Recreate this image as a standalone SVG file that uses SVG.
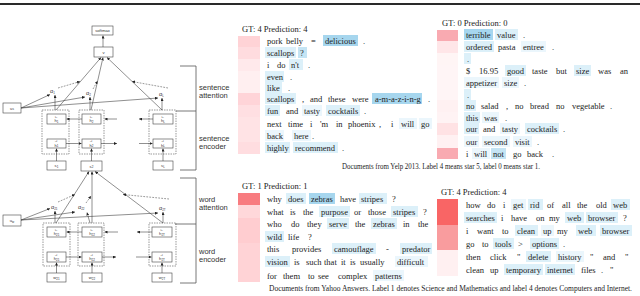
<svg xmlns="http://www.w3.org/2000/svg" width="640" height="296" viewBox="0 0 640 296">
<style>
.bx{fill:#fff;stroke:#444;stroke-width:0.6}
.db{fill:none;stroke:#555;stroke-width:0.6;stroke-dasharray:1.5,1}
.ln{fill:none;stroke:#333;stroke-width:0.55;marker-end:url(#ah)}
.dl{fill:none;stroke:#444;stroke-width:0.55;stroke-dasharray:1.8,1.2;marker-end:url(#ah)}
.br{fill:none;stroke:#555;stroke-width:0.8}
.lb{font-family:"Liberation Sans",Arial,sans-serif;font-size:4.2px;fill:#333;text-anchor:middle}
.ar{font-family:"DejaVu Sans",sans-serif;font-size:3.2px;fill:#333;text-anchor:middle}
.sb{font-size:3px}
.al{font-family:"Liberation Sans",Arial,sans-serif;font-size:5.5px;fill:#333}
.lv{font-family:"Liberation Sans",Arial,sans-serif;font-size:7.5px;fill:#333}
.w{font-family:"Liberation Serif","Times New Roman",serif;font-size:8.5px;fill:#222}
.cap{font-family:"Liberation Serif","Times New Roman",serif;font-size:7.2px;fill:#222}
.b1{fill:#a6d6ee}.b2{fill:#c4e4f4}.b3{fill:#dcf0f9}.b4{fill:#ebf6fc}
</style>
<defs>
<marker id="ah" viewBox="0 0 6 6" refX="6" refY="3" markerWidth="3" markerHeight="3" orient="auto" markerUnits="userSpaceOnUse"><path d="M0,0L6,3L0,6z" fill="#222"/></marker>
</defs>
<rect x="0" y="3" width="640" height="2" fill="#2a2a2a"/>

<!-- architecture: sentence level -->
<g id="softmax"><rect class="bx" x="92" y="26" width="21" height="9"/><text class="lb" x="102.5" y="32">softmax</text></g>
<g id="v"><rect class="bx" x="94" y="47" width="19" height="10"/><text class="lb" x="103.5" y="53.5">v</text></g>
<g id="us"><rect class="bx" x="3" y="103" width="18" height="10"/><text class="lb" x="12" y="109.5">u<tspan class="sb" dy="0.8">s</tspan></text></g>
<g id="sent-enc">
<rect class="db" x="42" y="110" width="27" height="44"/>
<rect class="db" x="79" y="110" width="25" height="44"/>
<rect class="db" x="149" y="110" width="27" height="44"/>
<rect class="bx" x="47" y="114" width="19" height="10"/><text class="ar" x="56" y="117.5">←</text><text class="lb" x="56.5" y="122">h<tspan class="sb" dy="0.8">1</tspan></text>
<rect class="bx" x="82" y="114" width="19" height="10"/><text class="ar" x="91" y="117.5">←</text><text class="lb" x="91.5" y="122">h<tspan class="sb" dy="0.8">2</tspan></text>
<rect class="bx" x="153" y="114" width="20" height="10"/><text class="ar" x="162.5" y="117.5">←</text><text class="lb" x="163" y="122">h<tspan class="sb" dy="0.8">L</tspan></text>
<rect class="bx" x="47" y="139" width="19" height="9"/><text class="ar" x="56" y="142">→</text><text class="lb" x="56.5" y="146.5">h<tspan class="sb" dy="0.8">1</tspan></text>
<rect class="bx" x="82" y="139" width="19" height="9"/><text class="ar" x="91" y="142">→</text><text class="lb" x="91.5" y="146.5">h<tspan class="sb" dy="0.8">2</tspan></text>
<rect class="bx" x="153" y="139" width="20" height="9"/><text class="ar" x="162.5" y="142">→</text><text class="lb" x="163" y="146.5">h<tspan class="sb" dy="0.8">L</tspan></text>
</g>
<g id="s1"><rect class="bx" x="47" y="161" width="19" height="9"/><text class="lb" x="56.5" y="167">s<tspan class="sb" dy="0.8">1</tspan></text></g>
<g id="s2"><rect class="bx" x="81" y="161" width="21" height="10"/><text class="lb" x="91.5" y="167.5">s<tspan class="sb" dy="0.8">2</tspan></text></g>
<g id="sL"><rect class="bx" x="153" y="161" width="20" height="9"/><text class="lb" x="163" y="167">s<tspan class="sb" dy="0.8">L</tspan></text></g>
<g id="alpha-s">
<text class="al" x="50" y="93">α<tspan class="sb" dy="0.8">1</tspan></text>
<text class="al" x="86" y="95">α<tspan class="sb" dy="0.8">2</tspan></text>
<text class="al" x="159" y="96">α<tspan class="sb" dy="0.8">L</tspan></text>
</g>

<!-- architecture: word level -->
<g id="uw"><rect class="bx" x="3" y="215" width="18" height="11"/><text class="lb" x="12" y="222">u<tspan class="sb" dy="0.8">w</tspan></text></g>
<g id="word-enc">
<rect class="db" x="43" y="223" width="27" height="43"/>
<rect class="db" x="78" y="223" width="26" height="43"/>
<rect class="db" x="149" y="223" width="27" height="43"/>
<rect class="bx" x="47" y="227" width="19" height="10"/><text class="ar" x="56" y="230.5">←</text><text class="lb" x="56.5" y="235">h<tspan class="sb" dy="0.8">21</tspan></text>
<rect class="bx" x="82" y="227" width="20" height="10"/><text class="ar" x="91.5" y="230.5">←</text><text class="lb" x="92" y="235">h<tspan class="sb" dy="0.8">22</tspan></text>
<rect class="bx" x="152" y="227" width="20" height="10"/><text class="ar" x="161.5" y="230.5">←</text><text class="lb" x="162" y="235">h<tspan class="sb" dy="0.8">2T</tspan></text>
<rect class="bx" x="47" y="252" width="19" height="10"/><text class="ar" x="56" y="255.5">→</text><text class="lb" x="56.5" y="260">h<tspan class="sb" dy="0.8">21</tspan></text>
<rect class="bx" x="82" y="252" width="20" height="10"/><text class="ar" x="91.5" y="255.5">→</text><text class="lb" x="92" y="260">h<tspan class="sb" dy="0.8">22</tspan></text>
<rect class="bx" x="152" y="252" width="20" height="10"/><text class="ar" x="161.5" y="255.5">→</text><text class="lb" x="162" y="260">h<tspan class="sb" dy="0.8">2T</tspan></text>
</g>
<g id="w21"><rect class="bx" x="47" y="273" width="19" height="9"/><text class="lb" x="56.5" y="279">w<tspan class="sb" dy="0.8">21</tspan></text></g>
<g id="w22"><rect class="bx" x="82" y="273" width="20" height="9"/><text class="lb" x="92" y="279">w<tspan class="sb" dy="0.8">22</tspan></text></g>
<g id="w2T"><rect class="bx" x="152" y="273" width="20" height="9"/><text class="lb" x="162" y="279">w<tspan class="sb" dy="0.8">2T</tspan></text></g>
<g id="alpha-w">
<text class="al" x="51" y="209">α<tspan class="sb" dy="0.8">21</tspan></text>
<text class="al" x="78" y="209">α<tspan class="sb" dy="0.8">22</tspan></text>
<text class="al" x="159" y="210">α<tspan class="sb" dy="0.8">2T</tspan></text>
</g>

<g id="connectors">
<path class="ln" d="M103,47L103,35.5"/>
<path class="ln" d="M56,110L101,57.5"/>
<path class="ln" d="M91,110L103,57.5"/>
<path class="ln" d="M162,110L107,57.5"/>
<path class="ln" d="M55,110L55,95"/>
<path class="ln" d="M90,110L90,97"/>
<path class="ln" d="M162,110L162,98"/>
<path class="ln" d="M21,108L50,94.5"/>
<path class="ln" d="M21,108L85,97"/>
<path class="ln" d="M21,108L158,98"/>
<path class="dl" d="M58,88L80,81.5"/>
<path class="dl" d="M93,89L97.5,81"/>
<path class="dl" d="M168,88L132,81.5"/>
<path class="ln" d="M82,119L66.5,119"/>
<path class="ln" d="M117,119L104.5,119"/>
<path class="ln" d="M153,119L139,119"/>
<path class="ln" d="M66,143.5L81.5,143.5"/>
<path class="ln" d="M101,143.5L117,143.5"/>
<path class="ln" d="M139,143.5L152.5,143.5"/>
<path class="ln" d="M56.5,161L56.5,148.5"/>
<path class="ln" d="M91.5,161L91.5,148.5"/>
<path class="ln" d="M163,161L163,148.5"/>
<path class="ln" d="M56,223L89,171.5"/>
<path class="ln" d="M92,223L92,171.5"/>
<path class="ln" d="M163,223L95,171.5"/>
<path class="ln" d="M55,223L55,211"/>
<path class="ln" d="M90,223L87,212.5"/>
<path class="ln" d="M163,223L163,212"/>
<path class="ln" d="M21,220L50,208.5"/>
<path class="ln" d="M21,220L75,212"/>
<path class="ln" d="M21,220L158,213"/>
<path class="dl" d="M58,202L75,194.5"/>
<path class="dl" d="M86,203L91,196"/>
<path class="dl" d="M169,199L123,194.5"/>
<path class="ln" d="M82,232L66.5,232"/>
<path class="ln" d="M118,232L104.5,232"/>
<path class="ln" d="M152,232L137,232"/>
<path class="ln" d="M66,257L81.5,257"/>
<path class="ln" d="M102,257L116,257"/>
<path class="ln" d="M136,257L151.5,257"/>
<path class="ln" d="M56.5,273L56.5,262.5"/>
<path class="ln" d="M92,273L92,262.5"/>
<path class="ln" d="M162,273L162,262.5"/>
</g>

<g id="brackets">
<path class="br" d="M180,66H196V170H180"/>
<path class="br" d="M176,111H196"/>
<path class="br" d="M180,178H196V283H180"/>
<path class="br" d="M175,224H196"/>
<text class="lv" x="199" y="90">sentence</text><text class="lv" x="199" y="98">attention</text>
<text class="lv" x="199" y="141">sentence</text><text class="lv" x="199" y="149">encoder</text>
<text class="lv" x="199" y="202">word</text><text class="lv" x="199" y="210">attention</text>
<text class="lv" x="199" y="254">word</text><text class="lv" x="199" y="262">encoder</text>
</g>

<!-- Panel 1: Yelp GT 4 -->
<g id="yelp-4">
<text class="w" x="242" y="32">GT: 4 Prediction: 4</text>
<rect x="238" y="36" width="22" height="11" fill="#ffd3d6"/>
<rect x="238" y="47" width="22" height="12" fill="#ffdcdf"/>
<rect x="238" y="59" width="22" height="12" fill="#ffe9eb"/>
<rect x="238" y="71" width="22" height="11" fill="#ffeff0"/>
<rect x="238" y="82" width="22" height="11" fill="#ffeff0"/>
<rect x="238" y="93" width="22" height="12" fill="#ffd4d8"/>
<rect x="238" y="105" width="22" height="12" fill="#ffdfe2"/>
<rect x="238" y="117" width="22" height="25" fill="#ffe3e5"/>
<rect x="238" y="142" width="22" height="12" fill="#ffdde0"/>
<rect class="b1" x="323" y="35" width="35" height="11"/>
<rect class="b3" x="265" y="47" width="31" height="11"/>
<rect class="b2" x="298" y="47" width="9" height="11"/>
<rect class="b3" x="289" y="59" width="14" height="11"/>
<rect class="b3" x="265" y="71" width="19" height="11"/>
<rect class="b3" x="265" y="82" width="17" height="11"/>
<rect class="b3" x="265" y="93" width="31" height="11"/>
<rect class="b1" x="372" y="93" width="50" height="11"/>
<rect class="b3" x="265" y="105" width="15" height="11"/>
<rect class="b4" x="302" y="105" width="20" height="11"/>
<rect class="b3" x="326" y="105" width="34" height="11"/>
<rect class="b4" x="399" y="118" width="18" height="11"/>
<rect class="b4" x="419" y="118" width="13" height="11"/>
<rect class="b4" x="265" y="130" width="19" height="11"/>
<rect class="b4" x="292" y="130" width="19" height="11"/>
<rect class="b3" x="265" y="142" width="25" height="11"/>
<rect class="b3" x="293" y="142" width="45" height="11"/>
<text class="w" y="44"><tspan x="267">pork</tspan><tspan x="286">belly</tspan><tspan x="311">=</tspan><tspan x="325">delicious</tspan><tspan x="363">.</tspan></text>
<text class="w" y="56"><tspan x="267">scallops</tspan><tspan x="300">?</tspan></text>
<text class="w" y="68"><tspan x="267">i</tspan><tspan x="277">do</tspan><tspan x="291">n't</tspan><tspan x="308">.</tspan></text>
<text class="w" y="80"><tspan x="267">even</tspan><tspan x="290">.</tspan></text>
<text class="w" y="91"><tspan x="267">like</tspan><tspan x="288">.</tspan></text>
<text class="w" y="102"><tspan x="267">scallops</tspan><tspan x="302">,</tspan><tspan x="310">and</tspan><tspan x="328">these</tspan><tspan x="352">were</tspan><tspan x="375">a-m-a-z-i-n-g</tspan><tspan x="428">.</tspan></text>
<text class="w" y="114"><tspan x="267">fun</tspan><tspan x="286">and</tspan><tspan x="304">tasty</tspan><tspan x="328">cocktails</tspan><tspan x="364">.</tspan></text>
<text class="w" y="127"><tspan x="267">next</tspan><tspan x="288">time</tspan><tspan x="310">i</tspan><tspan x="320">'m</tspan><tspan x="336">in</tspan><tspan x="348">phoenix</tspan><tspan x="379">,</tspan><tspan x="391">i</tspan><tspan x="401">will</tspan><tspan x="421">go</tspan></text>
<text class="w" y="139"><tspan x="267">back</tspan><tspan x="294">here</tspan><tspan x="312">.</tspan></text>
<text class="w" y="151"><tspan x="267">highly</tspan><tspan x="295">recommend</tspan><tspan x="342">.</tspan></text>
</g>

<!-- Panel 2: Yelp GT 0 -->
<g id="yelp-0">
<text class="w" x="442" y="26">GT: 0 Prediction: 0</text>
<rect x="437" y="30" width="21" height="11" fill="#f9aab1"/>
<rect x="437" y="41" width="21" height="12" fill="#ffe6e8"/>
<rect x="437" y="53" width="21" height="12" fill="#fff5f5"/>
<rect x="437" y="65" width="21" height="24" fill="#fff5f6"/>
<rect x="437" y="89" width="21" height="11" fill="#fff5f6"/>
<rect x="437" y="100" width="21" height="12" fill="#fff1f2"/>
<rect x="437" y="112" width="21" height="11" fill="#fff3f4"/>
<rect x="437" y="123" width="21" height="12" fill="#ffe2e4"/>
<rect x="437" y="135" width="21" height="13" fill="#fff1f2"/>
<rect x="437" y="148" width="21" height="11" fill="#f9aab1"/>
<rect class="b1" x="464" y="29" width="29" height="11"/>
<rect class="b3" x="495" y="29" width="23" height="11"/>
<rect class="b3" x="464" y="41" width="30" height="11"/>
<rect class="b4" x="521" y="41" width="25" height="11"/>
<rect class="b3" x="464" y="53" width="7" height="11"/>
<rect class="b3" x="505" y="65" width="21" height="11"/>
<rect class="b3" x="574" y="65" width="17" height="11"/>
<rect class="b4" x="464" y="77" width="35" height="11"/>
<rect class="b4" x="502" y="77" width="17" height="11"/>
<rect class="b3" x="464" y="89" width="7" height="11"/>
<rect class="b3" x="464" y="100" width="12" height="11"/>
<rect class="b3" x="464" y="112" width="16" height="11"/>
<rect class="b4" x="482" y="112" width="17" height="11"/>
<rect class="b3" x="464" y="123" width="15" height="11"/>
<rect class="b4" x="500" y="123" width="20" height="11"/>
<rect class="b3" x="525" y="123" width="34" height="11"/>
<rect class="b4" x="464" y="136" width="15" height="11"/>
<rect class="b4" x="482" y="136" width="28" height="11"/>
<rect class="b4" x="513" y="136" width="19" height="11"/>
<rect class="b4" x="472" y="148" width="18" height="11"/>
<rect class="b2" x="491" y="148" width="15" height="11"/>
<text class="w" y="38"><tspan x="466">terrible</tspan><tspan x="497">value</tspan><tspan x="523">.</tspan></text>
<text class="w" y="50"><tspan x="466">ordered</tspan><tspan x="498">pasta</tspan><tspan x="523">entree</tspan><tspan x="552">.</tspan></text>
<text class="w" y="62"><tspan x="467">.</tspan></text>
<text class="w" y="74"><tspan x="466">$</tspan><tspan x="479">16.95</tspan><tspan x="507">good</tspan><tspan x="532">taste</tspan><tspan x="556">but</tspan><tspan x="576">size</tspan><tspan x="598">was</tspan><tspan x="620">an</tspan></text>
<text class="w" y="86"><tspan x="466">appetizer</tspan><tspan x="504">size</tspan><tspan x="524">.</tspan></text>
<text class="w" y="98"><tspan x="467">.</tspan></text>
<text class="w" y="109"><tspan x="466">no</tspan><tspan x="481">salad</tspan><tspan x="506">,</tspan><tspan x="515">no</tspan><tspan x="530">bread</tspan><tspan x="556">no</tspan><tspan x="572">vegetable</tspan><tspan x="610">.</tspan></text>
<text class="w" y="121"><tspan x="466">this</tspan><tspan x="484">was</tspan><tspan x="505">.</tspan></text>
<text class="w" y="132"><tspan x="466">our</tspan><tspan x="483">and</tspan><tspan x="502">tasty</tspan><tspan x="527">cocktails</tspan><tspan x="563">.</tspan></text>
<text class="w" y="145"><tspan x="466">our</tspan><tspan x="484">second</tspan><tspan x="515">visit</tspan><tspan x="537">.</tspan></text>
<text class="w" y="157"><tspan x="466">i</tspan><tspan x="474">will</tspan><tspan x="493">not</tspan><tspan x="513">go</tspan><tspan x="527">back</tspan><tspan x="552">.</tspan></text>
</g>
<text class="cap" x="342" y="169" textLength="198" lengthAdjust="spacingAndGlyphs">Documents from Yelp 2013. Label 4 means star 5, label 0 means star 1.</text>

<!-- Panel 3: Yahoo GT 1 -->
<g id="yahoo-1">
<text class="w" x="242" y="189">GT: 1 Prediction: 1</text>
<rect x="238" y="193" width="22" height="12" fill="#f87c80"/>
<rect x="238" y="205" width="22" height="13" fill="#ffd8da"/>
<rect x="238" y="218" width="22" height="25" fill="#ffcdd0"/>
<rect x="238" y="243" width="22" height="39" fill="#ffd3d6"/>
<rect class="b3" x="286" y="193" width="20" height="11"/>
<rect class="b1" x="309" y="193" width="26" height="11"/>
<rect class="b3" x="359" y="193" width="28" height="11"/>
<rect class="b3" x="319" y="206" width="31" height="11"/>
<rect class="b3" x="391" y="206" width="27" height="11"/>
<rect class="b3" x="327" y="218" width="22" height="11"/>
<rect class="b3" x="371" y="218" width="26" height="11"/>
<rect class="b3" x="265" y="231" width="19" height="11"/>
<rect class="b3" x="332" y="243" width="44" height="11"/>
<rect class="b3" x="400" y="243" width="32" height="11"/>
<rect class="b3" x="265" y="256" width="25" height="11"/>
<rect class="b4" x="395" y="256" width="33" height="11"/>
<rect class="b4" x="373" y="270" width="31" height="11"/>
<text class="w" y="202"><tspan x="267">why</tspan><tspan x="288">does</tspan><tspan x="311">zebras</tspan><tspan x="340">have</tspan><tspan x="361">stripes</tspan><tspan x="392">?</tspan></text>
<text class="w" y="215"><tspan x="267">what</tspan><tspan x="290">is</tspan><tspan x="303">the</tspan><tspan x="321">purpose</tspan><tspan x="354">or</tspan><tspan x="368">those</tspan><tspan x="393">stripes</tspan><tspan x="423">?</tspan></text>
<text class="w" y="227"><tspan x="267">who</tspan><tspan x="291">do</tspan><tspan x="307">they</tspan><tspan x="329">serve</tspan><tspan x="355">the</tspan><tspan x="373">zebras</tspan><tspan x="403">in</tspan><tspan x="418">the</tspan></text>
<text class="w" y="240"><tspan x="267">wild</tspan><tspan x="288">life</tspan><tspan x="308">?</tspan></text>
<text class="w" y="252"><tspan x="267">this</tspan><tspan x="292">provides</tspan><tspan x="334">camouflage</tspan><tspan x="386">-</tspan><tspan x="402">predator</tspan></text>
<text class="w" y="265"><tspan x="267">vision</tspan><tspan x="294">is</tspan><tspan x="306">such</tspan><tspan x="324">that</tspan><tspan x="341">it</tspan><tspan x="350">is</tspan><tspan x="360">usually</tspan><tspan x="397">difficult</tspan></text>
<text class="w" y="279"><tspan x="267">for</tspan><tspan x="283">them</tspan><tspan x="308">to</tspan><tspan x="318">see</tspan><tspan x="338">complex</tspan><tspan x="375">patterns</tspan></text>
</g>

<!-- Panel 4: Yahoo GT 4 -->
<g id="yahoo-4">
<text class="w" x="441" y="195">GT: 4 Prediction: 4</text>
<rect x="437" y="199" width="21" height="26" fill="#f96565"/>
<rect x="437" y="225" width="21" height="25" fill="#f99c9e"/>
<rect x="437" y="250" width="21" height="26" fill="#fff0f1"/>
<rect class="b4" x="511" y="199" width="15" height="11"/>
<rect class="b3" x="528" y="199" width="15" height="11"/>
<rect class="b3" x="611" y="199" width="19" height="11"/>
<rect class="b3" x="464" y="212" width="33" height="11"/>
<rect class="b3" x="565" y="212" width="19" height="11"/>
<rect class="b3" x="586" y="212" width="32" height="11"/>
<rect class="b3" x="515" y="225" width="23" height="11"/>
<rect class="b4" x="541" y="225" width="13" height="11"/>
<rect class="b3" x="576" y="225" width="20" height="11"/>
<rect class="b3" x="600" y="225" width="32" height="11"/>
<rect class="b3" x="493" y="238" width="21" height="11"/>
<rect class="b3" x="530" y="238" width="29" height="11"/>
<rect class="b3" x="526" y="251" width="25" height="11"/>
<rect class="b4" x="556" y="251" width="28" height="11"/>
<rect class="b3" x="504" y="264" width="39" height="11"/>
<rect class="b3" x="545" y="264" width="30" height="11"/>
<text class="w" y="208"><tspan x="466">how</tspan><tspan x="487">do</tspan><tspan x="503">i</tspan><tspan x="513">get</tspan><tspan x="530">rid</tspan><tspan x="547">of</tspan><tspan x="562">all</tspan><tspan x="577">the</tspan><tspan x="596">old</tspan><tspan x="613">web</tspan></text>
<text class="w" y="221"><tspan x="466">searches</tspan><tspan x="501">i</tspan><tspan x="511">have</tspan><tspan x="536">on</tspan><tspan x="549">my</tspan><tspan x="567">web</tspan><tspan x="588">browser</tspan><tspan x="623">?</tspan></text>
<text class="w" y="234"><tspan x="466">i</tspan><tspan x="477">want</tspan><tspan x="502">to</tspan><tspan x="517">clean</tspan><tspan x="543">up</tspan><tspan x="557">my</tspan><tspan x="578">web</tspan><tspan x="602">browser</tspan></text>
<text class="w" y="247"><tspan x="466">go</tspan><tspan x="482">to</tspan><tspan x="495">tools</tspan><tspan x="518">&gt;</tspan><tspan x="532">options</tspan><tspan x="563">.</tspan></text>
<text class="w" y="260"><tspan x="466">then</tspan><tspan x="490">click</tspan><tspan x="517">"</tspan><tspan x="528">delete</tspan><tspan x="558">history</tspan><tspan x="590">"</tspan><tspan x="603">and</tspan><tspan x="625">"</tspan></text>
<text class="w" y="273"><tspan x="466">clean</tspan><tspan x="490">up</tspan><tspan x="506">temporary</tspan><tspan x="547">internet</tspan><tspan x="581">files</tspan><tspan x="601">.</tspan><tspan x="610">"</tspan></text>
</g>
<text class="cap" x="269" y="291" textLength="363" lengthAdjust="spacingAndGlyphs">Documents from Yahoo Answers. Label 1 denotes Science and Mathematics and label 4 denotes Computers and Internet.</text>
</svg>
